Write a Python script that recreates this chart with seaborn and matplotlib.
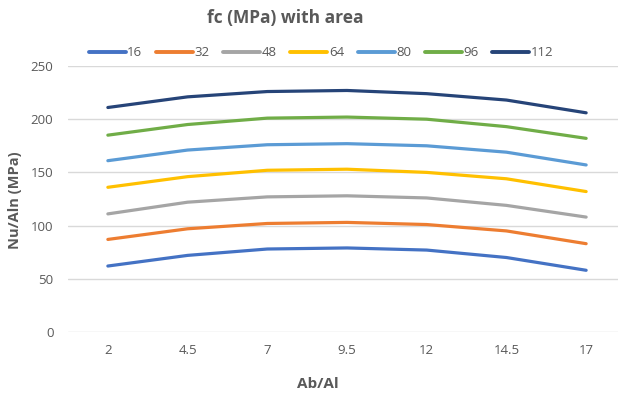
import matplotlib
matplotlib.use("Agg")
import matplotlib.pyplot as plt
import seaborn as sns
import pandas as pd

# Ab/Al ratios on the x axis
ratios = [2, 4.5, 7, 9.5, 12, 14.5, 17]
ratio_labels = ["2", "4.5", "7", "9.5", "12", "14.5", "17"]

# Nu/Aln (MPa) for each fc (MPa)
fc_16 = [62, 72, 78, 79, 77, 70, 58]
fc_32 = [87, 97, 102, 103, 101, 95, 83]
fc_48 = [111, 122, 127, 128, 126, 119, 108]
fc_64 = [136, 146, 152, 153, 150, 144, 132]
fc_80 = [161, 171, 176, 177, 175, 169, 157]
fc_96 = [185, 195, 201, 202, 200, 193, 182]
fc_112 = [211, 221, 226, 227, 224, 218, 206]

series_names = ["16", "32", "48", "64", "80", "96", "112"]
series_values = [fc_16, fc_32, fc_48, fc_64, fc_80, fc_96, fc_112]
colors = ["#4472C4", "#ED7D31", "#A5A5A5", "#FFC000", "#5B9BD5", "#70AD47", "#264478"]

rows = []
for name, vals in zip(series_names, series_values):
    for r, v in zip(ratios, vals):
        rows.append({"Ab/Al": r, "Nu/Aln": v, "fc": name})
df = pd.DataFrame(rows)

sns.set_theme(style="white")
plt.rcParams["font.family"] = ["Open Sans", "DejaVu Sans"]
text_grey = "#595959"

W, H = 618, 394
fig = plt.figure(figsize=(W / 100, H / 100), dpi=100)
left, right, top, bottom = 68, 626, 66, 332
ax = fig.add_axes([left / W, 1 - bottom / H, (right - left) / W, (bottom - top) / H])

sns.lineplot(data=df, x="Ab/Al", y="Nu/Aln", hue="fc", hue_order=series_names,
             palette=colors, linewidth=2.3, ax=ax, legend=False, sort=False)

ax.set_xlim(ratios[0] - 1.25, ratios[-1] + 1.25)
ax.set_ylim(0, 250)
ax.set_yticks(range(0, 251, 50))
ax.set_xticks(ratios)
ax.set_xticklabels(ratio_labels)
ax.yaxis.grid(True, color="#D9D9D9", linewidth=1.0)
ax.set_axisbelow(True)
for s in ax.spines.values():
    s.set_visible(False)
ax.tick_params(axis="both", length=0, labelsize=9.5, labelcolor=text_grey)
ax.tick_params(axis="y", pad=10.5)
ax.tick_params(axis="x", pad=8.5)
ax.set_xlabel("")
ax.set_ylabel("")

fig.text(15 / W, 1 - 200 / H, "Nu/Aln (MPa)", rotation=90, ha="center", va="center",
         fontsize=10.5, fontweight="bold", color=text_grey)
fig.text(318 / W, 1 - 384 / H, "Ab/Al", ha="center", va="center",
         fontsize=11, fontweight="bold", color=text_grey)
fig.text(285 / W, 1 - 18 / H, "fc (MPa) with area", ha="center", va="center",
         fontsize=12.5, fontweight="bold", color=text_grey)

handles = [plt.Line2D([], [], color=c, linewidth=2.8) for c in colors]
leg = fig.legend(handles, series_names, loc="center", bbox_to_anchor=(321 / W, 1 - 53 / H),
                 ncol=7, frameon=False, handlelength=2.8, handletextpad=0.1,
                 columnspacing=1.05, fontsize=9.5, borderpad=0, borderaxespad=0)
for t in leg.get_texts():
    t.set_color(text_grey)

fig.savefig("out.png", dpi=100)
